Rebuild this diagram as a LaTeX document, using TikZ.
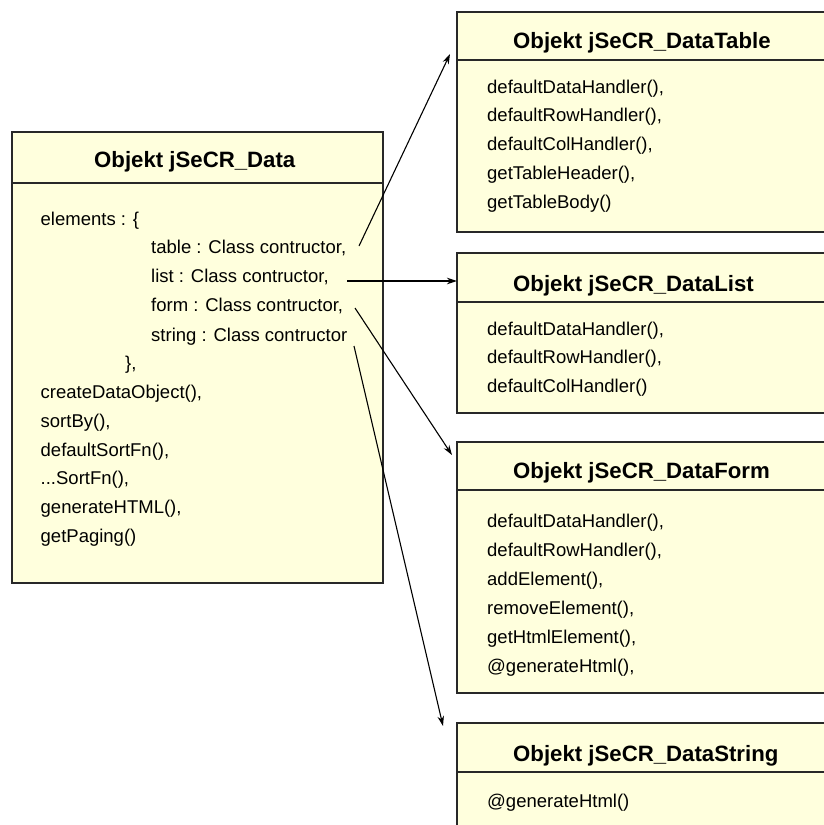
\documentclass[tikz,border=0pt]{standalone}
\usepackage{fontspec}
\setmainfont{Liberation Sans}
\usetikzlibrary{arrows.meta}
\definecolor{boxfill}{RGB}{255,255,221}
\definecolor{boxline}{RGB}{40,40,40}
\tikzset{
  x=1pt, y=-1pt,
  objbox/.style={draw=boxline, line width=1.3pt, fill=boxfill, anchor=north west, inner sep=0pt, outer sep=0pt},
  divline/.style={draw=boxline, line width=1.3pt},
  title/.style={font=\fontsize{22.2}{26}\selectfont\bfseries, anchor=base west, inner sep=0pt},
  item/.style={font=\fontsize{18.5}{22}\selectfont, anchor=base west, inner sep=0pt},
  conn/.style={line width=1.1pt, -{Stealth[length=10pt,width=6.5pt]}}
}
\begin{document}
\begin{tikzpicture}
\useasboundingbox (0,0) rectangle (823,825);
% left box
\node[objbox, minimum width=371pt, minimum height=451pt] (data) at (12,132) {};
\draw[divline] (12,183) -- (383,183);
\node[title] (dataT) at (94,167) {Objekt jSeCR\_Data};
\node[item] (d1) at (40.5,225) {elements : \{};
\node[item] (d2) at (151,253) {table : Class contructor,};
\node[item] (d3) at (151,282) {list : Class contructor,};
\node[item] (d4) at (151,311) {form : Class contructor,};
\node[item] (d5) at (151,341) {string : Class contructor};
\node[item] (d6) at (125,369) {\},};
\node[item] (d7) at (40.5,398) {createDataObject(),};
\node[item] (d8) at (40.5,427) {sortBy(),};
\node[item] (d9) at (40.5,456) {defaultSortFn(),};
\node[item] (d10) at (40.5,484) {...SortFn(),};
\node[item] (d11) at (40.5,513) {generateHTML(),};
\node[item] (d12) at (40.5,542) {getPaging()};
% table box
\node[objbox, minimum width=372pt, minimum height=220pt] (tab) at (457,12) {};
\draw[divline] (457,60) -- (829,60);
\node[title] (tabT) at (513,48) {Objekt jSeCR\_DataTable};
\node[item] (t1) at (487,93) {defaultDataHandler(),};
\node[item] (t2) at (487,121) {defaultRowHandler(),};
\node[item] (t3) at (487,150) {defaultColHandler(),};
\node[item] (t4) at (487,179) {getTableHeader(),};
\node[item] (t5) at (487,208) {getTableBody()};
% list box
\node[objbox, minimum width=372pt, minimum height=160pt] (lst) at (457,253) {};
\draw[divline] (457,302) -- (829,302);
\node[title] (lstT) at (513,291) {Objekt jSeCR\_DataList};
\node[item] (l1) at (487,335) {defaultDataHandler(),};
\node[item] (l2) at (487,363) {defaultRowHandler(),};
\node[item] (l3) at (487,392) {defaultColHandler()};
% form box
\node[objbox, minimum width=372pt, minimum height=251pt] (frm) at (457,442) {};
\draw[divline] (457,490) -- (829,490);
\node[title] (frmT) at (513,478) {Objekt jSeCR\_DataForm};
\node[item] (f1) at (487,527) {defaultDataHandler(),};
\node[item] (f2) at (487,556) {defaultRowHandler(),};
\node[item] (f3) at (487,585) {addElement(),};
\node[item] (f4) at (487,614) {removeElement(),};
\node[item] (f5) at (487,643) {getHtmlElement(),};
\node[item] (f6) at (487,672) {@generateHtml(),};
% string box
\node[objbox, minimum width=372pt, minimum height=130pt] (str) at (457,723) {};
\draw[divline] (457,772) -- (829,772);
\node[title] (strT) at (513,761) {Objekt jSeCR\_DataString};
\node[item] (s1) at (487,807) {@generateHtml()};
% connectors
\coordinate (a1s) at (359,246);
\coordinate (a1e) at (450,54);
\coordinate (a2s) at (347,281);
\coordinate (a2e) at (457,281);
\coordinate (a3s) at (355,308);
\coordinate (a3e) at (452,455);
\coordinate (a4s) at (354,346);
\coordinate (a4e) at (443,726);
\draw[conn] (a1s) -- (a1e);
\draw[conn] (a2s) -- (a2e);
\draw[conn] (a3s) -- (a3e);
\draw[conn] (a4s) -- (a4e);
\end{tikzpicture}
\end{document}
